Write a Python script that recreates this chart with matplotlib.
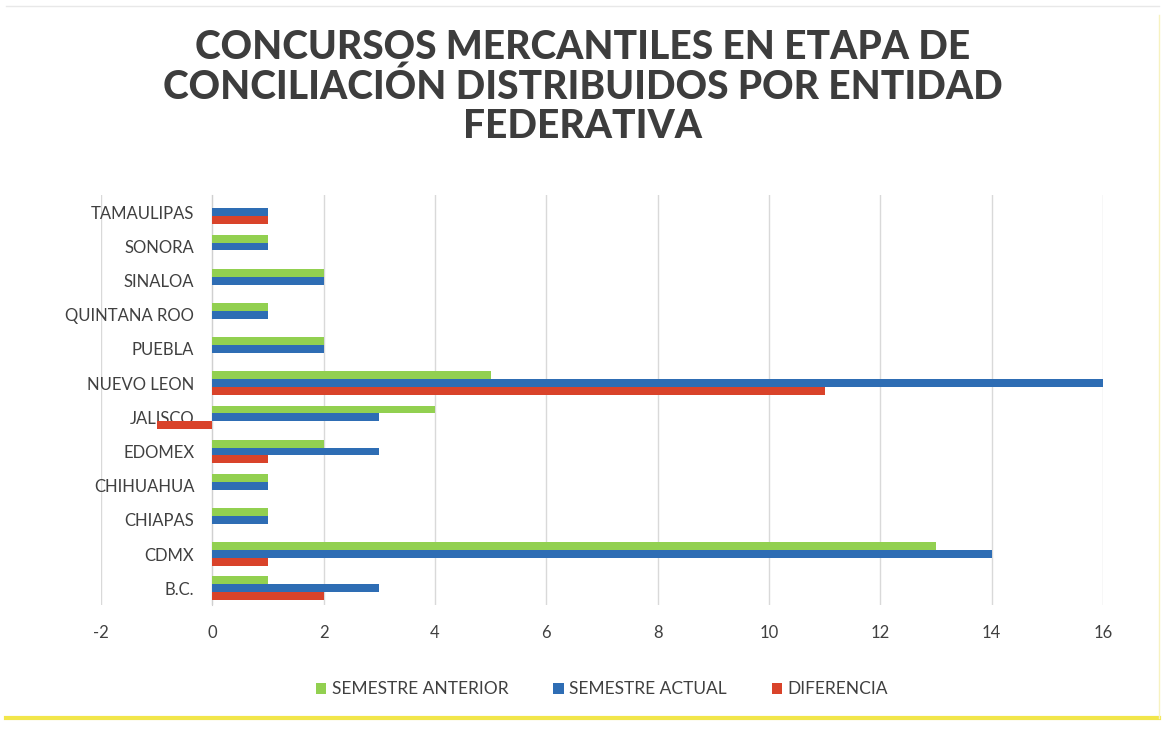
import numpy as np
import matplotlib.pyplot as plt
from matplotlib.lines import Line2D

# data, bottom to top as in the chart
entidades = ['B.C.', 'CDMX', 'CHIAPAS', 'CHIHUAHUA', 'EDOMEX', 'JALISCO',
             'NUEVO LEON', 'PUEBLA', 'QUINTANA ROO', 'SINALOA', 'SONORA', 'TAMAULIPAS']
semestre_anterior = [1, 13, 1, 1, 2, 4, 5, 2, 1, 2, 1, 0]
semestre_actual = [3, 14, 1, 1, 3, 3, 16, 2, 1, 2, 1, 1]
diferencia = [2, 1, 0, 0, 1, -1, 11, 0, 0, 0, 0, 1]

plt.rcParams['font.family'] = ['Lato', 'DejaVu Sans']
plt.rcParams['axes.unicode_minus'] = False

fig = plt.figure(figsize=(11.65, 7.31), dpi=100)
ax = fig.add_axes([0.0867, 0.172, 0.860, 0.561])

y = np.arange(len(entidades))
h = 0.23
ax.barh(y + h, semestre_anterior, height=h, color='#92D050', label='SEMESTRE ANTERIOR', zorder=3)
ax.barh(y, semestre_actual, height=h, color='#2E6DB4', label='SEMESTRE ACTUAL', zorder=3)
ax.barh(y - h, diferencia, height=h, color='#D9432A', label='DIFERENCIA', zorder=3)

ax.set_xlim(-2, 16)
ax.set_ylim(-0.5, len(entidades) - 0.5)
ax.set_xticks(np.arange(-2, 17, 2))
ax.set_yticks(y)
ax.set_yticklabels(entidades)
ax.grid(axis='x', color='#d9d9d9', linewidth=1, zorder=0)
for s in ax.spines.values():
    s.set_visible(False)
# category axis sits at x = 0, like the original
ax.spines['left'].set_visible(True)
ax.spines['left'].set_position(('data', 0))
ax.spines['left'].set_color('#d0d0d0')
ax.tick_params(length=0, labelsize=12, colors='#404040')
ax.tick_params(axis='x', pad=14)
ax.tick_params(axis='y', pad=13)
for t in ax.get_yticklabels():
    t.set_zorder(5)

fig.text(0.5, 0.881, 'CONCURSOS MERCANTILES EN ETAPA DE\nCONCILIACIÓN DISTRIBUIDOS POR ENTIDAD\nFEDERATIVA',
         ha='center', va='center', fontsize=28, fontweight='black', color='#3d3d3d', linespacing=1.08)

ax.legend(loc='center', bbox_to_anchor=(0.5, -0.205), ncol=3, frameon=False,
          fontsize=12.5, labelcolor='#404040', handlelength=0.6, handleheight=0.6,
          handletextpad=0.3, columnspacing=2.6)

# yellowish bottom edge of the frame
fig.add_artist(Line2D([0.005, 0.995], [0.018, 0.018], transform=fig.transFigure,
                      color='#f2e64a', linewidth=3))
fig.add_artist(Line2D([0.995, 0.995], [0.018, 0.98], transform=fig.transFigure,
                      color='#f7f2c0', linewidth=1))
fig.add_artist(Line2D([0.005, 0.995], [0.992, 0.992], transform=fig.transFigure,
                      color='#e8e8e8', linewidth=1))

fig.savefig('out.png', dpi=100)
